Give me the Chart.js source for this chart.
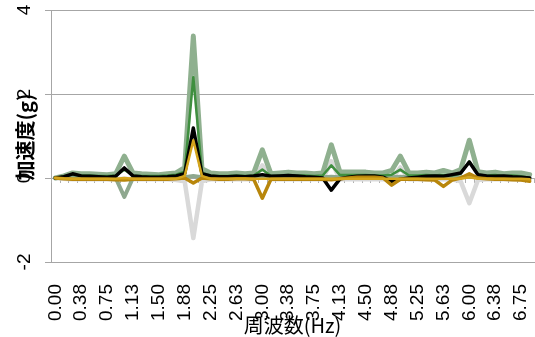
<!DOCTYPE html>
<html>
<head>
<meta charset="utf-8">
<script src="https://cdn.jsdelivr.net/npm/chart.js@4"></script>
<style>
html,body{margin:0;padding:0;background:#fff;}
#wrap{width:535px;height:337px;position:relative;}
</style>
</head>
<body>
<div id="wrap"><canvas id="c" width="535" height="337"></canvas></div>
<script>
// Frequencies (Hz), one category each
const freq = [0.000,0.125,0.250,0.375,0.500,0.625,0.750,0.875,1.000,1.125,1.250,1.375,1.500,1.625,1.750,1.875,
  2.000,2.125,2.250,2.375,2.500,2.625,2.750,2.875,3.000,3.125,3.250,3.375,3.500,3.625,3.750,3.875,
  4.000,4.125,4.250,4.375,4.500,4.625,4.750,4.875,5.000,5.125,5.250,5.375,5.500,5.625,5.750,5.875,
  6.000,6.125,6.250,6.375,6.500,6.625,6.750,6.875];
const categories = freq.map(f => f.toFixed(2));
const yTickValues = [-2, 0, 2, 4];
const yTickLabels = ["-2", "0", "2", "4"];
const xTitle = "周波数(Hz)";
const yTitle = "加速度(g)";

const sage = [0.00,0.05,0.12,0.10,0.10,0.09,0.08,0.10,0.52,0.12,0.10,0.09,0.08,0.10,0.12,0.25,
  3.38,0.22,0.12,0.10,0.10,0.12,0.10,0.12,0.67,0.10,0.12,0.14,0.12,0.12,0.10,0.12,
  0.79,0.14,0.14,0.14,0.14,0.12,0.12,0.18,0.52,0.12,0.12,0.14,0.12,0.18,0.12,0.20,
  0.90,0.15,0.12,0.14,0.10,0.12,0.12,0.08];
const grayGreen = [0.00,0.02,0.03,0.02,0.02,0.02,0.01,0.00,-0.45,0.00,0.02,0.02,0.02,0.02,0.02,0.02,
  0.05,0.02,0.02,0.02,0.02,0.02,0.02,0.02,0.03,0.02,0.02,0.02,0.02,0.02,0.02,0.02,
  0.03,0.02,0.02,0.02,0.02,0.02,0.02,0.02,0.03,0.02,0.02,0.02,0.02,0.02,0.02,0.02,
  0.03,0.02,0.02,0.02,0.02,0.02,0.02,0.00];
const darkGreen = [0.00,0.04,0.08,0.06,0.06,0.05,0.05,0.06,0.20,0.06,0.05,0.05,0.05,0.06,0.08,0.15,
  2.40,0.12,0.06,0.05,0.05,0.06,0.05,0.06,0.20,0.05,0.06,0.07,0.06,0.06,0.05,0.06,
  0.30,0.07,0.07,0.07,0.07,0.06,0.06,0.08,0.20,0.06,0.06,0.07,0.06,0.08,0.06,0.10,
  0.40,0.08,0.06,0.07,0.05,0.06,0.04,0.00];
const black = [0.00,0.03,0.10,0.05,0.04,0.03,0.02,0.04,0.24,0.05,0.03,0.02,0.02,0.03,0.05,0.10,
  1.19,0.10,0.05,0.03,0.03,0.04,0.03,0.05,0.08,0.04,0.05,0.06,0.05,0.03,0.02,0.00,
  -0.29,-0.02,0.02,0.04,0.05,0.05,0.02,-0.08,-0.03,0.00,0.02,0.04,0.05,0.04,0.08,0.12,
  0.38,0.08,0.05,0.04,0.05,0.03,0.02,0.00];
const goldDark = [0.00,-0.02,-0.03,-0.03,-0.03,-0.03,-0.03,-0.04,-0.05,-0.03,-0.03,-0.03,-0.03,-0.03,-0.02,0.00,
  -0.12,0.00,-0.02,-0.03,-0.03,-0.02,-0.02,-0.03,-0.48,-0.03,-0.03,-0.03,-0.03,-0.03,-0.03,-0.03,
  -0.04,-0.02,0.00,0.02,0.02,0.02,0.00,-0.17,-0.03,-0.03,-0.03,-0.04,-0.05,-0.20,-0.05,0.00,
  0.10,0.00,-0.02,-0.03,-0.03,-0.04,-0.05,-0.08];
const goldLight = [0.00,-0.01,-0.02,-0.02,-0.02,-0.02,-0.02,-0.02,0.00,-0.02,-0.02,-0.02,-0.02,-0.02,-0.02,0.05,
  0.90,0.05,-0.02,-0.02,-0.02,-0.02,-0.02,-0.02,-0.02,-0.02,-0.02,-0.02,-0.02,-0.02,-0.02,-0.02,
  -0.02,-0.02,-0.02,-0.02,-0.02,-0.02,-0.02,-0.02,-0.02,-0.02,-0.02,-0.02,-0.02,-0.02,-0.02,-0.02,
  0.02,-0.02,-0.02,-0.02,-0.02,-0.02,-0.02,-0.03];
const lightGray = [0.00,-0.02,-0.03,-0.03,-0.03,-0.03,-0.03,-0.03,-0.02,-0.03,-0.03,-0.03,-0.03,-0.03,-0.05,-0.08,
  -1.43,-0.08,-0.03,-0.03,-0.03,-0.03,-0.03,-0.03,0.30,-0.03,-0.03,-0.03,-0.03,-0.03,-0.03,-0.03,
  0.40,-0.03,-0.03,-0.03,-0.03,-0.03,-0.03,-0.03,0.25,-0.03,-0.03,-0.03,-0.03,-0.03,-0.03,-0.08,
  -0.60,-0.05,-0.03,-0.03,-0.03,-0.03,-0.03,-0.03];

const zeroTicks = {
  id: 'zeroTicks',
  beforeDatasetsDraw(chart) {
    const ctx = chart.ctx, xs = chart.scales.x, ys = chart.scales.y;
    const y0 = ys.getPixelForValue(0);
    const step = xs.getPixelForValue(1) - xs.getPixelForValue(0);
    ctx.save();
    ctx.strokeStyle = '#b0b0b0';
    ctx.lineWidth = 1;
    ctx.beginPath();
    for (let i = 0; i <= categories.length; i++) {
      const px = Math.round(xs.getPixelForValue(i) - step / 2) + 0.5;
      ctx.moveTo(px, y0);
      ctx.lineTo(px, y0 + 5);
    }
    ctx.stroke();
    ctx.restore();
  }
};

const yLabels = {
  id: 'yLabels',
  afterDraw(chart) {
    const ctx = chart.ctx, ys = chart.scales.y, ca = chart.chartArea;
    ctx.save();
    ctx.fillStyle = '#000';
    ctx.font = '19px "Liberation Sans", Arial, sans-serif';
    ctx.textAlign = 'center';
    ctx.textBaseline = 'middle';
    yTickValues.forEach((v, i) => {
      const py = ys.getPixelForValue(v);
      ctx.save();
      ctx.translate(25, py);
      ctx.rotate(-Math.PI / 2);
      ctx.fillText(yTickLabels[i], 0, 0);
      ctx.restore();
    });
    ctx.font = 'bold 20px "Noto Sans CJK JP", "Liberation Sans", sans-serif';
    ctx.save();
    ctx.translate(25, (ca.top + ca.bottom) / 2 + 1);
    ctx.rotate(-Math.PI / 2);
    ctx.fillText(yTitle, 0, 0);
    ctx.restore();
    ctx.restore();
  }
};

function ds(data, color, width, order) {
  return { data, borderColor: color, borderWidth: width, pointRadius: 0, tension: 0, fill: false, order,
           borderJoinStyle: 'round', borderCapStyle: 'round' };
}

new Chart(document.getElementById('c'), {
  type: 'line',
  data: {
    labels: categories,
    datasets: [
      ds(lightGray, '#d9d9d9', 4.5, 7),
      ds(grayGreen, '#8fa88f', 4, 6),
      ds(sage, '#8fb08f', 5, 5),
      ds(darkGreen, '#3f8f3f', 2.5, 4),
      ds(black, '#000000', 3.5, 3),
      ds(goldDark, '#b8860b', 3.5, 2),
      ds(goldLight, '#d4a51c', 2.5, 1)
    ]
  },
  options: {
    responsive: false,
    animation: false,
    devicePixelRatio: 1,
    layout: { padding: { top: 10, right: 1, left: 0, bottom: 0 } },
    plugins: { legend: { display: false }, tooltip: { enabled: false } },
    scales: {
      x: {
        type: 'category',
        offset: true,
        grid: { display: false },
        border: { display: true, color: '#a6a6a6' },
        ticks: {
          autoSkip: false,
          minRotation: 90,
          maxRotation: 90,
          padding: 14,
          color: '#000',
          font: { family: '"Liberation Sans", Arial, sans-serif', size: 19 },
          callback: function(val, idx) { return idx % 3 === 0 ? categories[idx] : ''; }
        },
        title: {
          display: true,
          text: xTitle,
          color: '#000',
          font: { family: '"Noto Sans CJK JP", "Liberation Sans", sans-serif', size: 20 },
          padding: 0
        },
        afterFit(scale) { scale.height = 75; scale.paddingLeft = 0; scale.paddingRight = 0; }
      },
      y: {
        min: -2,
        max: 4,
        ticks: { stepSize: 2, display: false },
        grid: { color: '#a6a6a6', tickLength: 6, drawTicks: true },
        border: { display: true, color: '#a6a6a6' },
        afterFit(scale) { scale.width = 51; scale.paddingTop = 0; scale.paddingBottom = 0; }
      }
    }
  },
  plugins: [zeroTicks, yLabels]
});
</script>
</body>
</html>
